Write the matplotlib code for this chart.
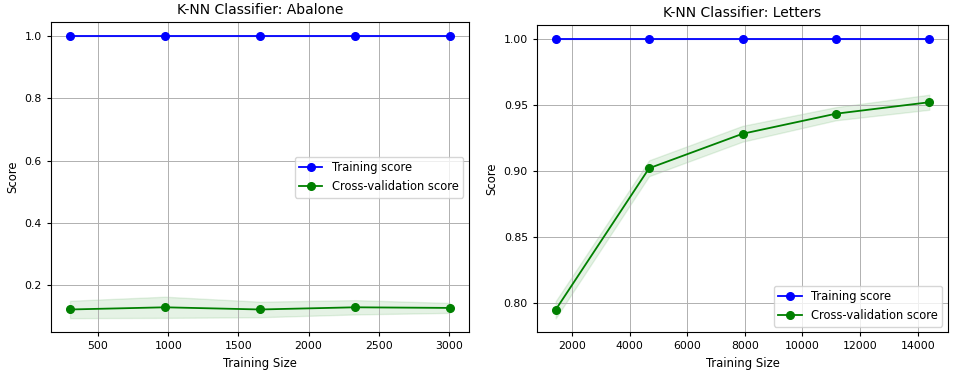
import numpy as np
import matplotlib
matplotlib.use('Agg')
import matplotlib.pyplot as plt

# Abalone learning curve
abalone_sizes = np.array([300, 977, 1654, 2330, 3007])
abalone_train = np.array([1.0, 1.0, 1.0, 1.0, 1.0])
abalone_train_std = np.array([0.0, 0.0, 0.0, 0.0, 0.0])
abalone_cv = np.array([0.121, 0.128, 0.121, 0.128, 0.126])
abalone_cv_std = np.array([0.028, 0.034, 0.025, 0.023, 0.016])

# Letters learning curve
letters_sizes = np.array([1440, 4680, 7920, 11160, 14400])
letters_train = np.array([1.0, 1.0, 1.0, 1.0, 1.0])
letters_train_std = np.array([0.0, 0.0, 0.0, 0.0, 0.0])
letters_cv = np.array([0.7949, 0.9021, 0.9282, 0.9434, 0.9521])
letters_cv_std = np.array([0.0065, 0.006, 0.006, 0.005, 0.0057])

# the reference looks like it was drawn at a lower dpi, so shrink everything a bit
plt.rcParams.update({
    'font.size': 8.3,
    'axes.titlesize': 10,
    'axes.labelsize': 8.4,
    'xtick.labelsize': 7.8,
    'ytick.labelsize': 7.8,
    'legend.fontsize': 8.3,
    'lines.markersize': 5.5,
    'lines.linewidth': 1.3,
    'axes.linewidth': 0.8,
    'grid.linewidth': 0.7,
    'xtick.major.size': 3,
    'ytick.major.size': 3,
})


def plot_curve(ax, title, sizes, train, train_std, cv, cv_std, loc):
    ax.set_title(title)
    ax.set_xlabel('Training Size')
    ax.set_ylabel('Score')
    ax.grid()
    ax.fill_between(sizes, train - train_std, train + train_std, alpha=0.1, color='b')
    ax.fill_between(sizes, cv - cv_std, cv + cv_std, alpha=0.1, color='g')
    ax.plot(sizes, train, 'o-', color='b', label='Training score')
    ax.plot(sizes, cv, 'o-', color='g', label='Cross-validation score')
    ax.legend(loc=loc)


fig = plt.figure(figsize=(9.6, 3.77), dpi=100)
ax1 = fig.add_axes([0.0531, 0.1186, 0.4354, 0.823])
ax2 = fig.add_axes([0.5594, 0.1186, 0.4281, 0.815])

plot_curve(ax1, 'K-NN Classifier: Abalone', abalone_sizes, abalone_train,
           abalone_train_std, abalone_cv, abalone_cv_std, 'center right')
plot_curve(ax2, 'K-NN Classifier: Letters', letters_sizes, letters_train,
           letters_train_std, letters_cv, letters_cv_std, 'lower right')

fig.savefig('out.png', dpi=100)
